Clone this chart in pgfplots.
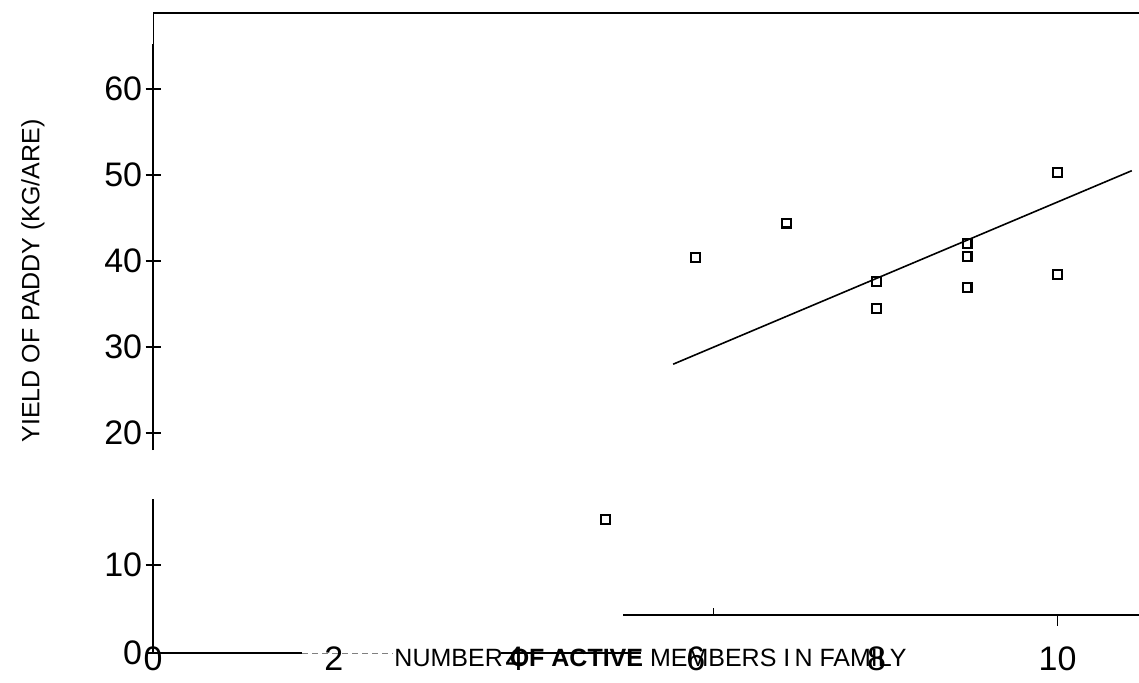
\documentclass[border=0pt]{standalone}
\usepackage{pgfplots}
\pgfplotsset{compat=1.18}
\usepackage{fontspec}
\setmainfont{Liberation Sans}
\begin{document}
\begin{tikzpicture}[x=1pt,y=1pt]
\path[use as bounding box] (0,0) rectangle (569.5,341);
\pgfplotsset{every axis/.append style={
  scale only axis, width=493pt, xmin=0, xmax=10.9,
  /pgf/number format/assume math mode=true,
  tick label style={font=\fontsize{17}{19}\selectfont},
  axis line style={-, line width=0.8pt},
  tick style={black, line width=0.7pt},
  major tick length=7.5pt, tick align=center,
  yticklabel style={anchor=east, inner sep=0pt, xshift=-1.5pt},
}}
% lower panel
\begin{axis}[
  at={(76.5pt,14.5pt)}, anchor=south west, height=77pt,
  ymin=0, ymax=17.5,
  axis x line*=bottom, x axis line style={draw=none},
  axis y line*=left,
  xtick={0,2,4,6,8,10}, x tick style={draw=none},
  xticklabel style={anchor=center, inner sep=0pt, yshift=1pt},
  ytick={0,10},
  clip=false,
]
\draw[line width=0.8pt] (axis cs:0,0) -- (axis cs:1.65,0);
\draw[line width=0.5pt, densely dashed, gray] (axis cs:1.65,0) -- (axis cs:2.65,0);
\draw[line width=0.8pt] (axis cs:3.85,0) -- (axis cs:5.4,0);
\addplot[only marks, mark=square, mark size=2.2pt, line width=1.1pt, mark options={rounded corners=1pt}] coordinates {(5,15.2)};
\node[font=\fontsize{12.5}{14}\selectfont, anchor=center] at (axis cs:5.5,-0.6) {NUMBER \textbf{OF ACTIVE} MEMBERS I\,N FAMILY};
\end{axis}
% upper panel
\begin{axis}[
  at={(76.5pt,115.9pt)}, anchor=south west, height=218.45pt,
  ymin=18, ymax=68.8,
  axis x line*=top, axis y line*=left,
  y axis line style={draw=none},
  xtick=\empty,
  ytick={20,30,40,50,60},
  clip=false,
]
\draw[line width=0.9pt] (axis cs:0,18) -- (axis cs:0,65.2);
\draw[line width=0.5pt] (axis cs:0,65.2) -- (axis cs:0,68.8);
\draw[line width=0.8pt] (axis cs:5.2,-1.16) -- (axis cs:10.9,-1.16);
\draw[line width=0.6pt] (axis cs:10,-1.16) -- (axis cs:10,-2.4);
\draw[line width=0.6pt] (axis cs:6.2,-1.16) -- (axis cs:6.2,-0.4);
\addplot[only marks, mark=square, mark size=2.2pt, line width=1.1pt, mark options={rounded corners=1pt}] coordinates {
  (6,40.4) (7,44.4) (8,37.6) (8,34.5) (9,42.0) (9,40.5) (9,36.9) (10,50.3) (10,38.4)
};
\addplot[black, line width=0.8pt] coordinates {(5.75,28.0) (10.82,50.5)};
\end{axis}
\node[rotate=90, font=\fontsize{12.5}{14}\selectfont] at (16.5,200.5) {YIELD OF PADDY (KG/ARE)};
\end{tikzpicture}
\end{document}
